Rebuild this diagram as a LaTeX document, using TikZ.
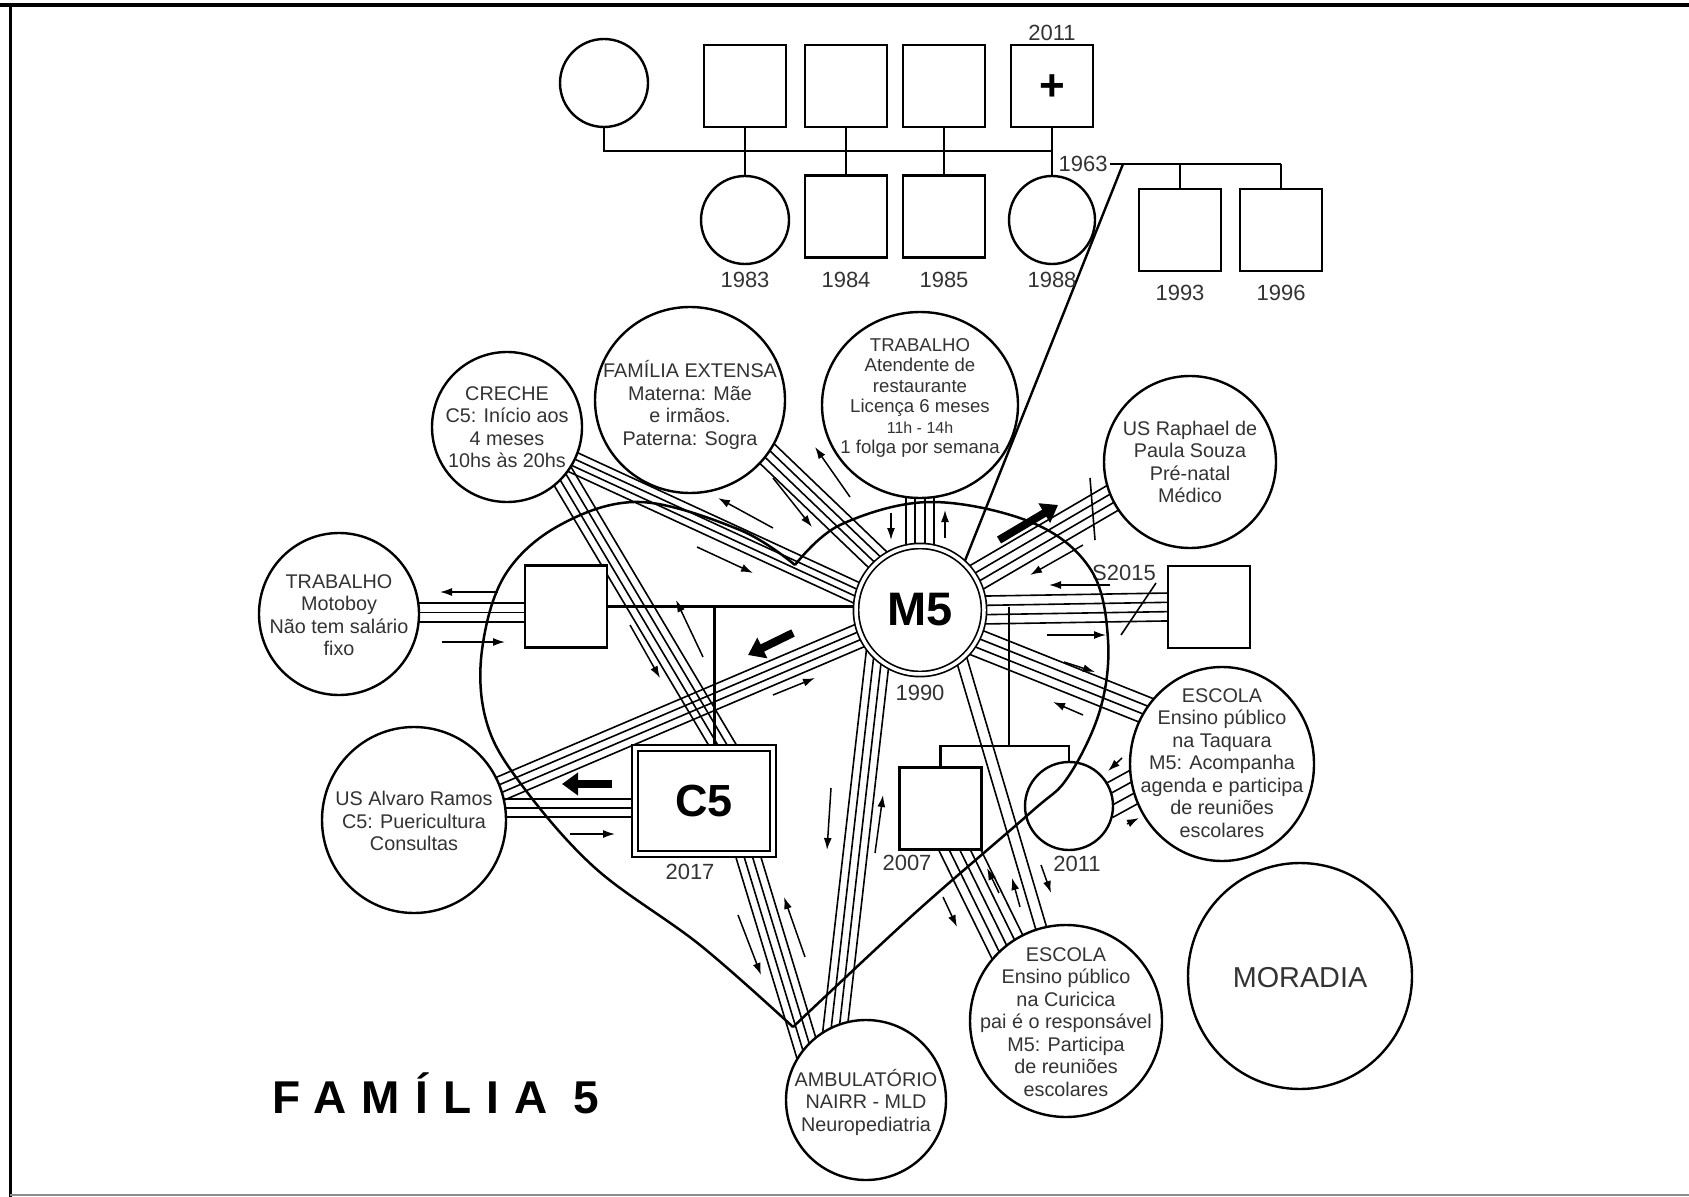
\documentclass[tikz,border=0pt]{standalone}
\usepackage{fontspec}
\setmainfont{Liberation Sans}
\newfontfamily\famfont[LetterSpace=33]{Liberation Sans}
\usetikzlibrary{calc,arrows.meta,shapes.geometric}
\pgfdeclarelayer{bg}
\pgfsetlayers{bg,main}

\tikzset{
  ell/.style 2 args={ellipse, draw, line width=1.2pt, fill=white, inner sep=0pt,
    minimum width=#1pt, minimum height=#2pt},
  sq/.style={rectangle, draw, line width=1.2pt, fill=white, inner sep=0pt, minimum size=41pt},
  txt/.style={align=center, inner sep=0pt, text=black!80, font=\fontsize{9.9}{11.25}\selectfont},
  yr/.style={inner sep=0pt, text=black!80, font=\fontsize{11}{12}\selectfont},
  tie/.style={line width=0.8pt, shorten <=-5pt, shorten >=-5pt},
  ped/.style={line width=1.2pt},
  flow/.style={line width=0.75pt, -{Latex[length=6pt,width=4pt]}},
  push/.style={line width=4pt, -{Triangle[length=8pt,width=11pt]}},
  cut/.style={line width=0.8pt},
  heart/.style={line width=1.25pt},
}

% #1 lines, #2 spacing (px), from #3 to #4
\newcommand\bund[4]{%
  \foreach \k in {1,...,#1}{%
    \pgfmathsetmacro\off{(\k-(#1+1)/2)*#2*0.5}%
    \draw[tie] ($(#3)!\off pt!90:(#4)$) -- ($(#4)!\off pt!-90:(#3)$);
  }}

\begin{document}
\begin{tikzpicture}[x=0.5pt,y=-0.5pt]
\useasboundingbox (0,0) rectangle (1689,1197);

% page frame
\draw[line width=2pt] (0,5) -- (1689,5);
\draw[line width=1.5pt] (10,5) -- (10,1197);
\draw[line width=1pt, black!45] (10,1195) -- (1689,1195);

% ---------- genogram, upper part ----------
\node[ell={44}{44}] (gm) at (604,83) {};
\node[sq] (ps1) at (745,86) {};
\node[sq] (ps2) at (846,86) {};
\node[sq] (ps3) at (944,86) {};
\node[sq] (ps4) at (1052,86) {};
\node[font=\fontsize{22}{22}\selectfont\bfseries, inner sep=0pt] (plus) at (1052,88) {+};
\node[yr] (y2011a) at (1052,33) {2011};

\node[ell={44}{44}] (c1983) at (745,220) {};
\node[sq] (s1984) at (846,216.5) {};
\node[sq] (s1985) at (944,216.5) {};
\node[ell={43}{44}] (c1988) at (1052,220) {};
\node[sq] (s1993) at (1180,230) {};
\node[sq] (s1996) at (1281,230) {};

\node[yr] (y1983) at (745,280) {1983};
\node[yr] (y1984) at (846,280) {1984};
\node[yr] (y1985) at (944,280) {1985};
\node[yr] (y1988) at (1052,280) {1988};
\node[yr] (y1993) at (1180,293) {1993};
\node[yr] (y1996) at (1281,293) {1996};

\coordinate (sibtop) at (0,151);
\coordinate (c1963) at (1110,164);
\coordinate (d1963) at (1123,164);
\node[yr, anchor=east] (y1963) at (1108,164) {1963};

\draw[ped] (gm.south) |- (ps4.south |- sibtop);
\draw[ped] (ps1.south) -- (c1983.north);
\draw[ped] (ps2.south) -- (s1984.north);
\draw[ped] (ps3.south) -- (s1985.north);
\draw[ped] (ps4.south) -- (c1988.north);
\draw[ped] (c1963) -- (s1996.north |- c1963);
\draw[ped] (s1993.north |- c1963) -- (s1993.north);
\draw[ped] (s1996.north |- c1963) -- (s1996.north);

% ---------- ecomap ----------
\node[ell={75}{75}] (creche) at (507,427) {};
\node[ell={95}{93}] (fam) at (690,400) {};
\node[ell={98}{93}] (trab) at (920,405) {};
\node[ell={86}{86}] (raph) at (1190,462) {};
\node[sq] (s2015) at (1209,607) {};
\node[ell={92}{97}] (taq) at (1222,764) {};
\node[ell={112}{113}] (mor) at (1300,976) {};
\node[ell={96}{96}] (cur) at (1066,1021) {};
\node[ell={80}{80}] (amb) at (866,1100) {};
\node[ell={92}{93}] (alv) at (414,820) {};
\node[ell={80}{81}] (moto) at (339,614) {};
\node[sq] (father) at (566,606.5) {};
\node[sq] (sq2007) at (940.5,808.5) {};
\node[ell={44}{44}] (c2011) at (1069,806) {};

\node[circle, draw, fill=white, line width=0.85pt, double, double distance=1.75pt,
  minimum size=64pt, inner sep=0pt, font=\fontsize{23.5}{24}\selectfont\bfseries] (M5) at (920,610) {M5};
\node[rectangle, draw, fill=white, line width=1pt, double, double distance=2pt,
  minimum width=69pt, minimum height=53pt, inner sep=0pt,
  font=\fontsize{22.5}{24}\selectfont\bfseries] (C5) at (704,801) {C5};

\node[txt] (t-creche) at (creche) {CRECHE\\C5: Início aos\\4 meses\\10hs às 20hs};
\node[txt] (t-fam) at (690,405) {FAMÍLIA EXTENSA\\Materna: Mãe\\e irmãos.\\Paterna: Sogra};
\node[txt, font=\fontsize{9.3}{10.2}\selectfont] (t-trab) at (920,398)
  {TRABALHO\\Atendente de\\restaurante\\Licença 6 meses\\{\fontsize{8}{10.2}\selectfont 11h - 14h}\\1 folga por semana};
\node[txt] (t-raph) at (1190,462) {US Raphael de\\Paula Souza\\Pré-natal\\Médico};
\node[txt] (t-taq) at (1222,763) {ESCOLA\\Ensino público\\na Taquara\\M5: Acompanha\\agenda e participa\\de reuniões\\escolares};
\node[txt, font=\fontsize{14.4}{16}\selectfont] (t-mor) at (1300,978) {MORADIA};
\node[txt] (t-cur) at (1066,1022) {ESCOLA\\Ensino público\\na Curicica\\pai é o responsável\\M5: Participa\\de reuniões\\escolares};
\node[txt] (t-amb) at (866,1102) {AMBULATÓRIO\\NAIRR - MLD\\Neuropediatria};
\node[txt] (t-alv) at (414,821) {US Alvaro Ramos\\C5: Puericultura\\Consultas};
\node[txt] (t-moto) at (339,615) {TRABALHO\\Motoboy\\Não tem salário\\fixo};

\node[yr] (y1990) at (920,693) {1990};
\node[yr] (y2017) at (690,872) {2017};
\node[yr] (y2007) at (907,863) {2007};
\node[yr] (y2011b) at (1077,864) {2011};
\node[yr] (ysep) at (1124,573) {S2015};

\node[inner sep=0pt, font=\famfont\fontsize{23}{24}\selectfont\bfseries] (title) at (436,1093) {FAMÍLIA{\kern-1pt} 5};

% ---------- ties (behind the nodes) ----------
\coordinate (fm) at ($(father.west)+(0,6)$);
\coordinate (mf) at (moto.east |- fm);
\coordinate (ca) at ($(C5.west)+(0,7)$);
\coordinate (ac) at (alv.east |- ca);
\coordinate (m1) at (father.east -| C5.79);
\coordinate (sib) at (1009,746);

\begin{pgfonlayer}{bg}
  \bund{4}{9.5}{M5.90}{trab.-90}
  \bund{4}{8}{fam.-35}{M5.130}
  \bund{4}{7}{creche.-28}{M5.165}
  \bund{4}{8}{creche.-42}{C5.70}
  \bund{4}{8}{M5.203}{alv.20}
  \bund{4}{8}{M5.229}{amb.112}
  \bund{4}{8}{C5.-51}{amb.138}
  \bund{2}{11}{M5.-50}{cur.105}
  \bund{5}{9.5}{sq2007.-65}{cur.128}
  \bund{4}{9}{M5.-30}{taq.145}
  \bund{4}{11}{c2011.10}{taq.195}
  \bund{4}{9}{M5.30}{raph.205}
  \bund{4}{9.3}{M5.0}{s2015.180}
  \bund{3}{9.5}{mf}{fm}
  \bund{3}{9}{ac}{ca}
  % unions and descent
  \draw[ped] (father.east) -- (father.east -| M5.center);
  \draw[ped] (m1) -- (C5.79);
  \draw[ped] (sib |- father.east) -- (sib);
  \draw[ped] (d1963) -- (M5.47);
\end{pgfonlayer}

\draw[ped] (sq2007.north) |- (sib) -| (c2011.north);

% ---------- household outline ----------
\draw[heart] plot[smooth, tension=0.6] coordinates {(795,565) (740,530) (640,502) (560,525) (505,575) (482,650) (486,720) (518,780) (594,867) (700,945) (793,1027)};
\draw[heart] plot[smooth, tension=0.6] coordinates {(795,565) (840,525) (930,502) (1033,523) (1091,570) (1108,640) (1100,710) (1068,777) (1030,813) (915,913) (793,1027)};

% ---------- flow arrows ----------
\draw[flow] (891,513) -- (891,540);
\draw[flow] (945,538) -- (945,510);
\draw[flow] (850,497) -- (815,447);
\draw[flow] (773,478) -- (812,527);
\draw[flow] (773,528) -- (718,498);
\draw[flow] (697,547) -- (753,573);
\draw[flow] (630,625) -- (660,678);
\draw[flow] (703,657) -- (676,600);
\draw[flow] (498,592) -- (440,592);
\draw[flow] (442,642) -- (505,642);
\draw[flow] (773,695) -- (815,678);
\draw[flow] (570,834) -- (615,834);
\draw[flow] (831,788) -- (827,850);
\draw[flow] (875,853) -- (883,795);
\draw[flow] (738,915) -- (761,975);
\draw[flow] (805,957) -- (784,897);
\draw[flow] (1041,865) -- (1051,893);
\draw[flow] (943,897) -- (957,927);
\draw[flow] (999,893) -- (987,868);
\draw[flow] (1020,907) -- (1012,878);
\draw[flow] (1064,662) -- (1095,672);
\draw[flow] (1083,715) -- (1053,702);
\draw[flow] (1122,758) -- (1108,771);
\draw[flow] (1127,824) -- (1139,818);
\draw[flow] (1083,545) -- (1030,575);
\draw[flow] (1110,585) -- (1049,585);
\draw[flow] (1047,635) -- (1106,635);

\draw[push] (999,540) -- (1058,505);
\draw[push] (793,633) -- (748,655);
\draw[push] (612,784) -- (562,784);

% breaks in the ties
\draw[cut] (1090,478) -- (1095,540);
\draw[cut] (1156,583) -- (1121,635);
\end{tikzpicture}
\end{document}
